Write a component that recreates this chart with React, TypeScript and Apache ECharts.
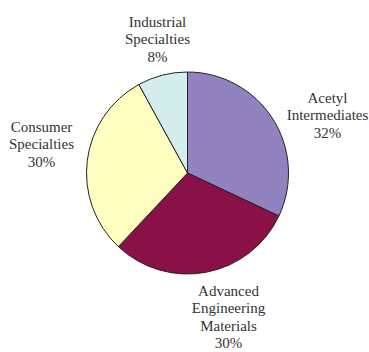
import React, { useEffect, useRef } from "react";
import * as echarts from "echarts";

const categories = [
  "Acetyl\nIntermediates",
  "Advanced\nEngineering\nMaterials",
  "Consumer\nSpecialties",
  "Industrial\nSpecialties",
];
const values = [32, 30, 30, 8];
const colors = ["#9282C0", "#8A1048", "#FFFFC2", "#D4EEEE"];
// label centre offsets from the pie centre (layout only)
const labelOffsets: [number, number][] = [
  [140, -58],
  [41, 144],
  [-146, -29],
  [-30, -134],
];

const CX = 187.5;
const CY = 173;

export default function App() {
  const ref = useRef<HTMLDivElement>(null);
  useEffect(() => {
    if (!ref.current) return;
    const chart = echarts.init(ref.current, null, { renderer: "svg" });
    chart.setOption({
      animation: false,
      backgroundColor: "#ffffff",
      series: [
        {
          type: "pie",
          center: [CX, CY],
          radius: 101,
          startAngle: 90,
          clockwise: true,
          avoidLabelOverlap: false,
          itemStyle: { borderColor: "#222222", borderWidth: 1 },
          label: {
            show: true,
            position: "outside",
            fontFamily: "'Liberation Serif', 'Times New Roman', serif",
            fontSize: 15,
            lineHeight: 17.5,
            color: "#333333",
            align: "center",
            formatter: (p: any) => `${p.name}\n${p.value}%`,
          },
          labelLine: { show: false },
          labelLayout: (p: any) => {
            const o = labelOffsets[p.dataIndex];
            return {
              x: CX + o[0],
              y: CY + o[1],
              align: "center",
              verticalAlign: "middle",
            };
          },
          emphasis: { disabled: true },
          data: categories.map((name, i) => ({
            name,
            value: values[i],
            itemStyle: { color: colors[i] },
          })),
        },
      ],
    });
    return () => chart.dispose();
  }, []);
  return (
    <div
      ref={ref}
      style={{ position: "fixed", left: 0, top: 0, width: 369, height: 352 }}
    />
  );
}
